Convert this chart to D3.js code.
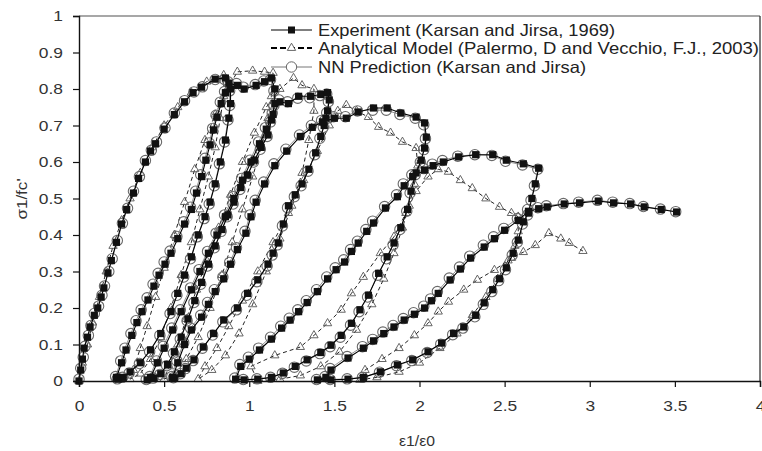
<!DOCTYPE html>
<html><head><meta charset="utf-8">
<script src="https://cdn.jsdelivr.net/npm/d3@7"></script>
<style>
html,body{margin:0;padding:0;background:#fff;}
svg text{font-family:"Liberation Sans",Arial,Helvetica,sans-serif;}
</style></head>
<body><svg id="c" width="762" height="451"></svg>
<script>
// ---------- DATA ----------
const xTicks = [0, 0.5, 1, 1.5, 2, 2.5, 3, 3.5, 4];
const yTicks = [0, 0.1, 0.2, 0.3, 0.4, 0.5, 0.6, 0.7, 0.8, 0.9, 1];
const seriesNames = ["Experiment (Karsan and Jirsa, 1969)",
  "Analytical Model (Palermo, D and Vecchio, F.J., 2003)",
  "NN Prediction (Karsan and Jirsa)"];
const xTitle = "ε1/ε0";
const yTitle = "σ1/fc'";

// Experiment (path order: envelope, unload/reload loops)
const experiment = [
 [0,0],[0.01,0.03],[0.02,0.06],[0.03,0.09],[0.05,0.12],[0.065,0.148],[0.09,0.18],[0.11,0.2],[0.13,0.23],[0.146,0.255],[0.17,0.296],[0.19,0.33],[0.22,0.38],[0.25,0.43],[0.28,0.47],[0.32,0.515],[0.35,0.555],[0.39,0.6],[0.42,0.63],[0.45,0.65],[0.5,0.69],[0.56,0.73],[0.62,0.765],[0.67,0.79],[0.72,0.805],[0.8,0.827],[0.86,0.83],
 [0.89,0.80],[0.89,0.76],[0.88,0.72],[0.86,0.66],[0.83,0.60],[0.80,0.54],[0.77,0.49],[0.74,0.45],[0.70,0.40],[0.66,0.34],[0.62,0.29],[0.58,0.24],[0.54,0.19],[0.48,0.13],[0.42,0.085],[0.36,0.05],[0.30,0.025],[0.26,0.01],[0.23,0.005],
 [0.22,0.01],[0.25,0.05],[0.276,0.085],[0.31,0.125],[0.34,0.16],[0.37,0.19],[0.405,0.222],[0.44,0.26],[0.47,0.29],[0.505,0.32],[0.54,0.35],[0.58,0.39],[0.62,0.43],[0.66,0.47],[0.69,0.515],[0.72,0.56],[0.745,0.605],[0.77,0.647],[0.79,0.688],[0.81,0.723],[0.835,0.76],[0.86,0.79],[0.88,0.816],[0.93,0.81],
 [0.97,0.80],[1.04,0.81],[1.09,0.82],[1.13,0.83],
 [1.15,0.80],[1.15,0.76],[1.13,0.715],[1.11,0.674],[1.07,0.64],[1.03,0.605],[0.99,0.564],[0.95,0.53],[0.91,0.49],[0.875,0.455],[0.84,0.415],[0.80,0.37],[0.76,0.32],[0.72,0.27],[0.68,0.22],[0.64,0.17],[0.60,0.12],[0.56,0.08],[0.52,0.045],[0.48,0.02],[0.44,0.008],[0.40,0.003],
 [0.42,0.01],[0.46,0.05],[0.50,0.09],[0.55,0.14],[0.60,0.19],[0.66,0.25],[0.71,0.30],[0.76,0.35],[0.81,0.40],[0.86,0.45],[0.91,0.50],[0.96,0.55],[1.01,0.60],[1.06,0.65],[1.10,0.69],[1.14,0.73],[1.18,0.765],[1.23,0.76],[1.29,0.78],[1.36,0.78],[1.42,0.785],[1.46,0.79],
 [1.47,0.77],[1.46,0.74],[1.45,0.72],[1.44,0.70],[1.42,0.67],[1.39,0.625],[1.35,0.58],[1.31,0.54],[1.27,0.51],[1.23,0.48],[1.20,0.43],[1.17,0.378],[1.14,0.35],[1.11,0.32],[1.05,0.277],[0.99,0.24],[0.93,0.20],[0.85,0.167],[0.79,0.13],[0.73,0.093],[0.675,0.058],[0.63,0.035],[0.60,0.02],[0.56,0.008],
 [0.55,0.01],[0.58,0.05],[0.62,0.10],[0.66,0.14],[0.72,0.175],[0.76,0.21],[0.80,0.245],[0.85,0.28],[0.89,0.32],[0.93,0.36],[0.98,0.405],[1.01,0.45],[1.04,0.49],[1.09,0.54],[1.15,0.59],[1.22,0.63],[1.30,0.67],[1.37,0.695],[1.43,0.71],[1.50,0.72],
 [1.57,0.72],[1.64,0.737],[1.73,0.748],[1.81,0.748],[1.89,0.734],[1.98,0.723],[2.03,0.707],[2.04,0.668],
 [2.03,0.638],[2.01,0.605],[1.98,0.57],[1.95,0.52],[1.93,0.47],[1.89,0.42],[1.85,0.378],[1.81,0.34],[1.76,0.295],[1.70,0.235],[1.65,0.195],[1.60,0.158],[1.54,0.125],[1.48,0.098],[1.42,0.078],[1.34,0.058],[1.27,0.04],[1.20,0.022],[1.13,0.01],[1.05,0.005],[0.97,0.003],
 [0.92,0.005],[0.95,0.04],[1.00,0.06],[1.06,0.085],[1.13,0.115],[1.19,0.145],[1.24,0.167],[1.29,0.19],[1.34,0.215],[1.40,0.245],[1.46,0.28],[1.51,0.305],[1.56,0.326],[1.60,0.355],[1.64,0.378],[1.69,0.41],[1.73,0.433],[1.80,0.474],[1.87,0.505],[1.91,0.535],[1.96,0.56],[2.03,0.578],
 [2.08,0.59],[2.14,0.60],[2.23,0.614],[2.33,0.62],[2.43,0.62],[2.51,0.605],[2.61,0.595],[2.70,0.583],
 [2.68,0.54],[2.66,0.50],[2.64,0.46],[2.61,0.436],[2.58,0.386],[2.55,0.35],[2.51,0.31],[2.47,0.28],[2.43,0.25],[2.38,0.214],[2.33,0.18],[2.26,0.148],[2.20,0.13],[2.13,0.104],[2.05,0.08],[1.96,0.058],[1.87,0.044],[1.77,0.025],[1.67,0.01],[1.58,0.005],[1.48,0.003],[1.40,0.003],
 [1.45,0.01],[1.48,0.03],[1.58,0.063],[1.67,0.09],[1.73,0.11],[1.79,0.13],[1.85,0.148],[1.91,0.167],[1.97,0.183],[2.03,0.20],[2.07,0.22],[2.11,0.24],[2.18,0.277],[2.24,0.307],[2.30,0.337],[2.38,0.367],[2.44,0.39],[2.50,0.413],[2.58,0.44],[2.64,0.465],[2.70,0.472],
 [2.75,0.477],[2.85,0.485],[2.94,0.488],[3.05,0.493],[3.14,0.488],[3.24,0.485],[3.32,0.477],[3.42,0.47],[3.51,0.463]
];

// NN prediction (closely tracks experiment)
const nnPrediction = [
 [0,0.005],[0.01,0.035],[0.025,0.065],[0.035,0.095],[0.055,0.125],[0.07,0.152],[0.09,0.185],[0.115,0.205],[0.135,0.235],[0.15,0.26],[0.175,0.3],[0.195,0.335],[0.225,0.385],[0.255,0.432],[0.285,0.473],[0.32,0.52],[0.355,0.56],[0.39,0.604],[0.425,0.632],[0.455,0.655],[0.505,0.693],[0.56,0.734],[0.62,0.768],[0.675,0.792],[0.725,0.806],[0.8,0.826],[0.855,0.826],
 [0.885,0.795],[0.885,0.755],[0.875,0.715],[0.855,0.655],[0.825,0.595],[0.795,0.535],[0.765,0.485],[0.735,0.445],[0.695,0.395],[0.655,0.335],[0.615,0.285],[0.575,0.235],[0.535,0.185],[0.475,0.125],[0.415,0.08],[0.355,0.048],[0.295,0.022],[0.255,0.01],[0.225,0.006],
 [0.215,0.012],[0.245,0.055],[0.27,0.09],[0.305,0.13],[0.335,0.165],[0.365,0.195],[0.40,0.228],[0.435,0.265],[0.465,0.295],[0.50,0.326],[0.535,0.356],[0.575,0.396],[0.615,0.436],[0.655,0.476],[0.685,0.52],[0.715,0.565],[0.74,0.61],[0.765,0.652],[0.785,0.692],[0.805,0.728],[0.83,0.764],[0.855,0.793],[0.875,0.82],[0.925,0.815],
 [0.965,0.805],[1.035,0.812],[1.085,0.822],[1.125,0.826],
 [1.145,0.795],[1.145,0.755],[1.125,0.71],[1.105,0.67],[1.065,0.635],[1.025,0.6],[0.985,0.56],[0.945,0.525],[0.905,0.485],[0.87,0.45],[0.835,0.41],[0.795,0.365],[0.755,0.315],[0.715,0.265],[0.675,0.215],[0.635,0.165],[0.595,0.115],[0.555,0.076],[0.515,0.042],[0.475,0.018],[0.435,0.008],[0.395,0.004],
 [0.415,0.012],[0.455,0.055],[0.495,0.095],[0.545,0.145],[0.595,0.195],[0.655,0.255],[0.705,0.305],[0.755,0.355],[0.805,0.405],[0.855,0.455],[0.905,0.505],[0.955,0.555],[1.005,0.605],[1.055,0.655],[1.095,0.694],[1.135,0.734],[1.175,0.77],[1.225,0.765],[1.285,0.775],[1.355,0.776],[1.415,0.782],[1.455,0.786],
 [1.465,0.765],[1.455,0.735],[1.445,0.715],[1.435,0.695],[1.415,0.665],[1.385,0.62],[1.345,0.575],[1.305,0.535],[1.265,0.505],[1.225,0.475],[1.195,0.425],[1.165,0.373],[1.135,0.345],[1.105,0.315],[1.045,0.272],[0.985,0.235],[0.925,0.195],[0.845,0.162],[0.785,0.126],[0.725,0.09],[0.67,0.056],[0.625,0.034],[0.595,0.02],[0.555,0.009],
 [0.545,0.012],[0.575,0.055],[0.615,0.105],[0.655,0.145],[0.715,0.18],[0.755,0.215],[0.795,0.25],[0.845,0.285],[0.885,0.325],[0.925,0.365],[0.975,0.41],[1.005,0.455],[1.035,0.495],[1.085,0.545],[1.145,0.595],[1.215,0.635],[1.295,0.674],[1.365,0.7],[1.425,0.714],[1.495,0.724],
 [1.565,0.724],[1.635,0.74],[1.725,0.742],[1.805,0.742],[1.885,0.73],[1.975,0.72],[2.025,0.702],[2.035,0.664],
 [2.025,0.634],[2.005,0.6],[1.975,0.565],[1.945,0.515],[1.925,0.465],[1.885,0.415],[1.845,0.373],[1.805,0.335],[1.755,0.29],[1.695,0.23],[1.645,0.19],[1.595,0.153],[1.535,0.12],[1.475,0.094],[1.415,0.075],[1.335,0.055],[1.265,0.038],[1.195,0.021],[1.125,0.01],[1.045,0.006],[0.965,0.004],
 [0.915,0.008],[0.945,0.045],[0.995,0.065],[1.055,0.09],[1.125,0.12],[1.185,0.15],[1.235,0.172],[1.285,0.195],[1.335,0.22],[1.395,0.25],[1.455,0.285],[1.505,0.31],[1.555,0.332],[1.595,0.36],[1.635,0.383],[1.685,0.415],[1.725,0.438],[1.795,0.478],[1.865,0.51],[1.905,0.54],[1.955,0.565],[2.025,0.582],
 [2.075,0.594],[2.135,0.604],[2.225,0.616],[2.325,0.62],[2.425,0.618],[2.505,0.602],[2.605,0.592],[2.695,0.58],
 [2.675,0.535],[2.655,0.495],[2.635,0.455],[2.605,0.43],[2.575,0.38],[2.545,0.345],[2.505,0.305],[2.465,0.275],[2.425,0.245],[2.375,0.21],[2.325,0.176],[2.255,0.145],[2.195,0.127],[2.125,0.101],[2.045,0.078],[1.955,0.056],[1.865,0.042],[1.765,0.024],[1.665,0.01],[1.575,0.006],[1.475,0.004],[1.395,0.004],
 [1.445,0.012],[1.475,0.034],[1.575,0.067],[1.665,0.094],[1.725,0.114],[1.785,0.134],[1.845,0.152],[1.905,0.171],[1.965,0.187],[2.025,0.205],[2.065,0.225],[2.105,0.245],[2.175,0.282],[2.235,0.312],[2.295,0.342],[2.375,0.372],[2.435,0.395],[2.495,0.418],[2.575,0.445],[2.635,0.47],[2.695,0.475],
 [2.745,0.48],[2.845,0.486],[2.935,0.49],[3.045,0.495],[3.135,0.49],[3.235,0.486],[3.315,0.478],[3.415,0.471],[3.505,0.464]
];

// Analytical model (Palermo and Vecchio)
const analytical = [
 [0,0],[0.02,0.05],[0.05,0.1],[0.08,0.16],[0.12,0.23],[0.16,0.3],[0.2,0.37],[0.25,0.44],[0.3,0.5],[0.36,0.57],[0.43,0.64],[0.5,0.7],[0.58,0.75],[0.66,0.79],[0.75,0.82],[0.85,0.838],
 [0.85,0.78],[0.83,0.72],[0.80,0.64],[0.76,0.56],[0.71,0.47],[0.66,0.38],[0.60,0.29],[0.54,0.20],[0.48,0.12],[0.42,0.06],[0.36,0.02],[0.30,0.005],
 [0.32,0.03],[0.36,0.09],[0.40,0.15],[0.45,0.23],[0.50,0.31],[0.56,0.40],[0.62,0.49],[0.68,0.58],[0.74,0.66],[0.80,0.73],[0.86,0.79],[0.93,0.847],[1.02,0.85],[1.09,0.847],[1.14,0.844],
 [1.13,0.78],[1.11,0.72],[1.07,0.64],[1.02,0.56],[0.96,0.47],[0.90,0.38],[0.84,0.29],[0.77,0.20],[0.70,0.12],[0.63,0.06],[0.57,0.02],[0.50,0.005],
 [0.53,0.04],[0.58,0.10],[0.63,0.17],[0.69,0.25],[0.75,0.33],[0.82,0.42],[0.89,0.51],[0.96,0.60],[1.03,0.68],[1.10,0.75],[1.18,0.80],[1.26,0.83],[1.31,0.81],[1.38,0.80],
 [1.38,0.74],[1.35,0.66],[1.31,0.57],[1.25,0.48],[1.18,0.39],[1.10,0.30],[1.02,0.21],[0.94,0.13],[0.86,0.07],[0.78,0.03],[0.70,0.005],
 [0.74,0.04],[0.81,0.09],[0.88,0.15],[0.96,0.22],[1.05,0.30],[1.14,0.38],[1.23,0.46],[1.32,0.55],[1.40,0.63],[1.47,0.70],[1.52,0.74],[1.57,0.756],
 [1.63,0.74],[1.70,0.723],[1.76,0.696],[1.83,0.68],[1.90,0.655],[1.98,0.638],
 [1.99,0.59],[1.97,0.54],[1.94,0.48],[1.90,0.42],[1.85,0.35],[1.79,0.28],[1.72,0.21],[1.63,0.14],[1.53,0.08],[1.42,0.04],[1.30,0.015],[1.18,0.005],[1.05,0.0],
 [1.01,0.04],[1.15,0.07],[1.30,0.093],[1.38,0.125],[1.46,0.158],[1.54,0.195],[1.60,0.24],[1.67,0.285],[1.77,0.35],[1.85,0.395],[1.92,0.46],[1.98,0.52],[2.05,0.56],[2.11,0.58],
 [2.17,0.573],[2.24,0.55],[2.31,0.528],[2.39,0.50],[2.47,0.477],[2.54,0.46],[2.58,0.45],
 [2.58,0.41],[2.56,0.37],[2.52,0.33],[2.46,0.28],[2.39,0.23],[2.31,0.18],[2.22,0.13],[2.12,0.09],[2.00,0.05],[1.88,0.025],[1.75,0.01],[1.65,0.003],
 [1.68,0.03],[1.78,0.06],[1.88,0.09],[1.97,0.125],[2.05,0.158],[2.11,0.19],[2.17,0.217],[2.26,0.25],[2.34,0.277],[2.44,0.304],[2.54,0.337],[2.61,0.353],[2.68,0.372],
 [2.76,0.405],[2.83,0.39],[2.88,0.378],[2.96,0.356]
];

// ---------- CHART ----------
const svg = d3.select("#c");
const L = 79, R = 760, T = 16, B = 381;
const x = d3.scaleLinear().domain([0, 4]).range([L, R]);
const y = d3.scaleLinear().domain([0, 1]).range([B, T]);

// horizontally stretch text (the reference type is wider than Arial)
function stretch(sel, k) {
  sel.each(function() {
    const w = this.getComputedTextLength();
    d3.select(this).attr("textLength", w * k).attr("lengthAdjust", "spacingAndGlyphs");
  });
}

// frame (top & right)
svg.append("line").attr("x1", L).attr("x2", R).attr("y1", T).attr("y2", T)
  .attr("stroke", "#8a8a8a").attr("stroke-width", 1.5);
svg.append("line").attr("x1", R).attr("x2", R).attr("y1", T).attr("y2", B)
  .attr("stroke", "#333").attr("stroke-width", 1.3);

const line = d3.line().x(d => x(d[0])).y(d => y(d[1]));

// Analytical
svg.append("path").datum(analytical).attr("d", line).attr("fill", "none")
  .attr("stroke", "#222").attr("stroke-width", 1).attr("stroke-dasharray", "4,3");
const tri = d3.symbol().type(d3.symbolTriangle).size(30);
svg.append("g").selectAll("path").data(analytical).join("path")
  .attr("d", tri).attr("transform", d => `translate(${x(d[0])},${y(d[1])})`)
  .attr("fill", "none").attr("stroke", "#555").attr("stroke-width", 0.9);

// NN
svg.append("path").datum(nnPrediction).attr("d", line).attr("fill", "none")
  .attr("stroke", "#777").attr("stroke-width", 0.8);
svg.append("g").selectAll("circle").data(nnPrediction).join("circle")
  .attr("cx", d => x(d[0])).attr("cy", d => y(d[1])).attr("r", 5.2)
  .attr("fill", "none").attr("stroke", "#6a6a6a").attr("stroke-width", 1.1);

// Experiment
svg.append("path").datum(experiment).attr("d", line).attr("fill", "none")
  .attr("stroke", "#000").attr("stroke-width", 1.1);
svg.append("g").selectAll("rect").data(experiment).join("rect")
  .attr("x", d => x(d[0]) - 3.6).attr("y", d => y(d[1]) - 3.6)
  .attr("width", 7.2).attr("height", 7.2).attr("fill", "#111");

// Axes
const xAxis = d3.axisBottom(x).tickValues(xTicks).tickSize(6).tickPadding(13)
  .tickFormat(d3.format("~g"));
const gx = svg.append("g").attr("transform", `translate(0,${B})`).call(xAxis);
const yAxis = d3.axisLeft(y).tickValues(yTicks).tickSize(6).tickPadding(10)
  .tickFormat(d3.format("~g"));
const gy = svg.append("g").attr("transform", `translate(${L},0)`).call(yAxis);
[gx, gy].forEach(g => {
  g.select(".domain").attr("stroke", "#111").attr("stroke-width", 1.4);
  g.selectAll(".tick line").attr("stroke", "#111").attr("stroke-width", 1.2);
  g.selectAll(".tick text").attr("font-size", 15.5).attr("fill", "#333")
    .attr("font-family", "'Liberation Sans', Arial, sans-serif");
  stretch(g.selectAll(".tick text"), 1.12);
});

// titles
const xt = svg.append("text").attr("x", 417).attr("y", 446).attr("text-anchor", "middle")
  .attr("font-size", 15).attr("fill", "#333").text(xTitle);
stretch(xt, 1.05);
const yt = svg.append("text").attr("transform", "translate(27,199) rotate(-90)")
  .attr("text-anchor", "middle").attr("font-size", 15.5).attr("fill", "#333").text(yTitle);
stretch(yt, 1.1);

// legend
const lg = svg.append("g");
const rows = [30, 48, 67];
const legendWidths = [297, 441, 268];
// row 1
lg.append("line").attr("x1", 271).attr("x2", 312).attr("y1", rows[0]).attr("y2", rows[0])
  .attr("stroke", "#000").attr("stroke-width", 1.1);
lg.append("rect").attr("x", 288).attr("y", rows[0] - 3.5).attr("width", 7).attr("height", 7).attr("fill", "#111");
// row 2
lg.append("line").attr("x1", 271).attr("x2", 312).attr("y1", rows[1]).attr("y2", rows[1])
  .attr("stroke", "#000").attr("stroke-width", 2.2).attr("stroke-dasharray", "6,3");
lg.append("path").attr("d", tri).attr("transform", `translate(291.5,${rows[1]})`)
  .attr("fill", "#fff").attr("stroke", "#555").attr("stroke-width", 0.9);
// row 3
lg.append("line").attr("x1", 271).attr("x2", 312).attr("y1", rows[2]).attr("y2", rows[2])
  .attr("stroke", "#666").attr("stroke-width", 0.9);
lg.append("circle").attr("cx", 291.5).attr("cy", rows[2]).attr("r", 5.2)
  .attr("fill", "#fff").attr("stroke", "#666").attr("stroke-width", 1);
lg.selectAll("text.l").data(seriesNames).join("text").attr("class", "l")
  .attr("x", 318).attr("y", (d, i) => rows[i] + 6).attr("font-size", 16.5)
  .attr("fill", "#222").attr("textLength", (d, i) => legendWidths[i])
  .attr("lengthAdjust", "spacingAndGlyphs").text(d => d);
</script>
</body></html>
